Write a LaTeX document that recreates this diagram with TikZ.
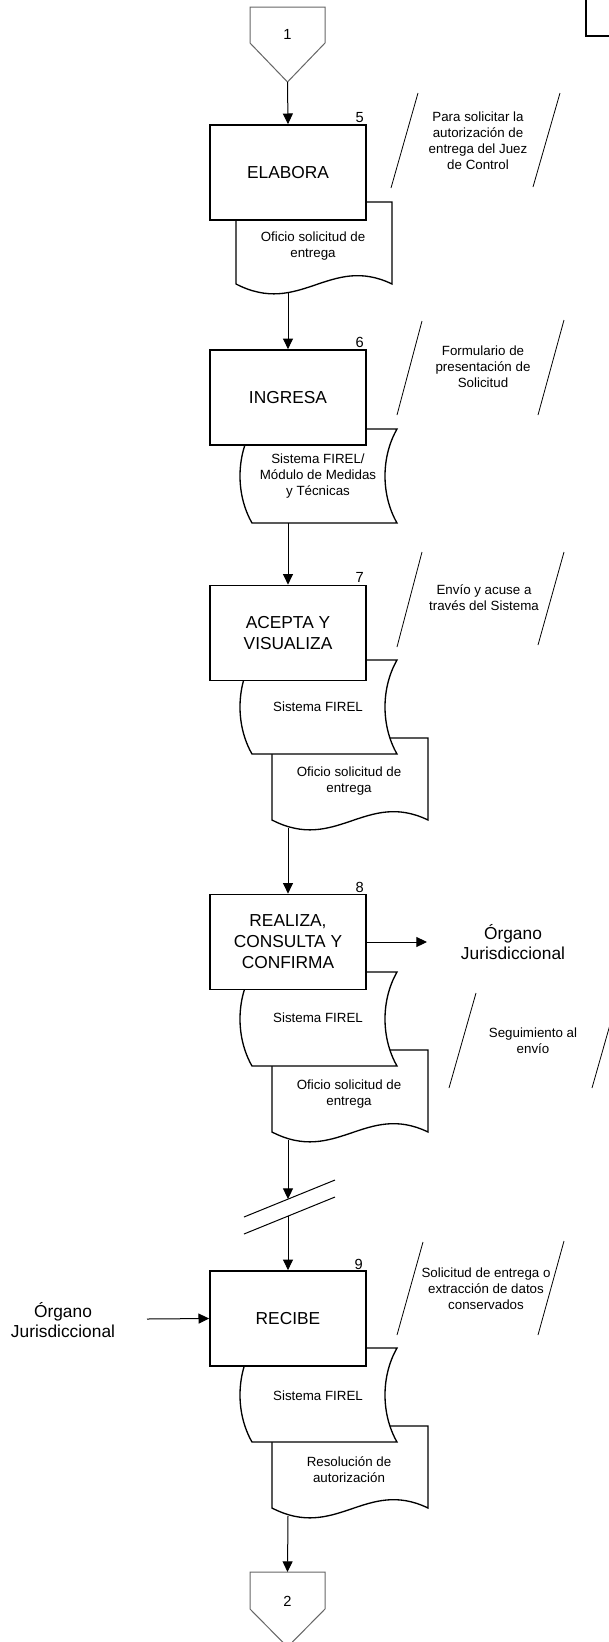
\documentclass[tikz,border=0pt]{standalone}
\usepackage{fontspec}
\setmainfont{Liberation Sans}
\usetikzlibrary{arrows.meta}
\newcommand{\docshape}[2]{%
  \draw[shp] (#1,#2) -- ({#1+156},#2) -- ({#1+156},{#2+82})
    .. controls ({#1+94},{#2+52}) and ({#1+64},{#2+115}) .. (#1,{#2+82}) -- cycle;}
\newcommand{\storeshape}[2]{%
  \draw[shp] (#1,#2) -- ({#1+145},#2)
    .. controls ({#1+129},{#2+28}) and ({#1+129},{#2+66}) .. ({#1+145},{#2+94})
    -- (#1,{#2+94})
    .. controls ({#1-16},{#2+66}) and ({#1-16},{#2+28}) .. (#1,#2) -- cycle;}
\begin{document}
\begin{tikzpicture}[x=0.75pt,y=-0.75pt,
  procbox/.style={draw,line width=1.25pt,fill=white,minimum width=117pt,minimum height=71.25pt,inner sep=0pt,align=center,font=\fontsize{13}{15.75}\selectfont},
  shp/.style={draw,line width=1pt,fill=white},
  small/.style={inner sep=0pt,align=center,font=\fontsize{10}{12}\selectfont},
  big/.style={inner sep=0pt,align=center,font=\fontsize{13}{15}\selectfont},
  num/.style={inner sep=0pt,font=\fontsize{11}{13}\selectfont},
  cnum/.style={inner sep=0pt,font=\fontsize{11}{13}\selectfont},
  arr/.style={line width=0.75pt,-{Triangle[length=8pt,width=7.5pt]}},
  slash/.style={line width=0.6pt},
  brk/.style={line width=0.75pt},
  conn/.style={draw=black!60,line width=0.75pt,fill=white}]
\clip (0,0) rectangle (609,1642);
\fill[white] (0,0) rectangle (609,1642);

% corner box
\draw[line width=1.5pt] (586,0) -- (586,36) -- (612,36);

% connector 1
\draw[conn] (250,7) -- (325,7) -- (325,43) -- (287.5,82) -- (250,43) -- cycle;
\node[cnum] (c1) at (287.5,34) {1};
\coordinate (c1tip) at (287.5,82);

% step 5
\docshape{236}{202}
\node[small] (d5) at (313,246) {Oficio solicitud de\\entrega};
\coordinate (d5b) at (288,293);
\node[procbox] (b5) at (288,172.5) {ELABORA};
\node[num,anchor=south east] (n5) at (364,123) {5};
\draw[slash] (418,93) -- (391,188);
\draw[slash] (560,93) -- (533,187);
\node[small] (a5) at (478,141) {Para solicitar la\\autorización de\\entrega del Juez\\de Control};

% step 6
\storeshape{252}{429}
\node[small] (s6) at (318,476) {Sistema FIREL/\\Módulo de Medidas\\y Técnicas};
\coordinate (s6b) at (288,523);
\node[procbox] (b6) at (288,397.5) {INGRESA};
\node[num,anchor=south east] (n6) at (364,348) {6};
\draw[slash] (422,321) -- (397,415);
\draw[slash] (564,320) -- (538,415);
\node[small] (a6) at (483,367) {Formulario de\\presentación de\\Solicitud};

% step 7
\docshape{272}{738}
\node[small] (d7) at (349,781) {Oficio solicitud de\\entrega};
\coordinate (d7b) at (288,828);
\storeshape{252}{660}
\node[small] (s7) at (318,707) {Sistema FIREL};
\node[procbox] (b7) at (288,633) {ACEPTA Y\\VISUALIZA};
\node[num,anchor=south east] (n7) at (364,583) {7};
\draw[slash] (422,552) -- (397,647);
\draw[slash] (564,552) -- (538,645);
\node[small] (a7) at (484,598) {Envío y acuse a\\través del Sistema};

% step 8
\docshape{272}{1050}
\node[small] (d8) at (349,1094) {Oficio solicitud de\\entrega};
\coordinate (d8b) at (288,1140);
\storeshape{252}{972}
\node[small] (s8) at (318,1018) {Sistema FIREL};
\node[procbox] (b8) at (288,942) {REALIZA,\\CONSULTA Y\\CONFIRMA};
\node[num,anchor=south east] (n8) at (364,893) {8};
\node[big] (o1) at (513,942) {Órgano\\Jurisdiccional};
\coordinate (o1in) at (427,942);
\draw[slash] (476,993) -- (449,1088);
\draw[slash] (619,993) -- (592,1088);
\node[small] (a8) at (533,1041) {Seguimiento al\\envío};

% break
\coordinate (brk1) at (288,1199);
\coordinate (brk2) at (288,1216);
\draw[brk] (244,1217) -- (335,1180);
\draw[brk] (244,1234) -- (335,1197);

% step 9
\docshape{272}{1426}
\node[small] (d9) at (349,1470) {Resolución de\\autorización};
\coordinate (d9b) at (288,1516);
\storeshape{252}{1348}
\node[small] (s9) at (318,1396) {Sistema FIREL};
\node[procbox] (b9) at (288,1318.5) {RECIBE};
\node[num,anchor=south east] (n9) at (363,1270) {9};
\node[big] (o2) at (63,1320) {Órgano\\Jurisdiccional};
\coordinate (o2out) at (147,1319);
\draw[slash] (423,1242) -- (397,1335);
\draw[slash] (564,1241) -- (538,1335);
\node[small] (a9) at (486,1289) {Solicitud de entrega o\\extracción de datos\\conservados};

% connector 2
\draw[conn] (250,1572) -- (325,1572) -- (325,1609) -- (287.5,1647) -- (250,1609) -- cycle;
\node[cnum] (c2) at (287.5,1601) {2};
\coordinate (c2top) at (287.5,1572);

% connectors
\draw[arr] (c1tip) -- (b5.north);
\draw[arr] (d5b) -- (b6.north);
\draw[arr] (s6b) -- (b7.north);
\draw[arr] (d7b) -- (b8.north);
\draw[arr] (b8.east) -- (o1in);
\draw[arr] (d8b) -- (brk1);
\draw[arr] (brk2) -- (b9.north);
\draw[arr] (o2out) -- (b9.west);
\draw[arr] (d9b) -- (c2top);
\end{tikzpicture}
\end{document}
